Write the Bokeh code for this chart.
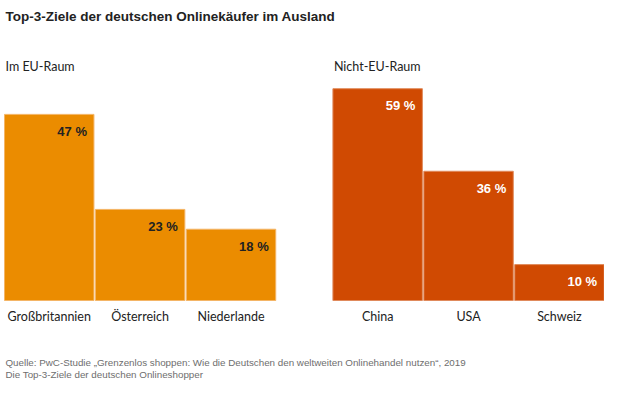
from bokeh.plotting import figure
from bokeh.models import Range1d, Label, ColumnDataSource
from bokeh.core.properties import value
from bokeh.embed import file_html
from bokeh.resources import INLINE

# ---- data ----
eu_countries = ["Großbritannien", "Österreich", "Niederlande"]
eu_values = [47, 23, 18]
noneu_countries = ["China", "USA", "Schweiz"]
noneu_values = [59, 36, 10]

title_text = "Top-3-Ziele der deutschen Onlinekäufer im Ausland"
eu_title = "Im EU-Raum"
noneu_title = "Nicht-EU-Raum"
source_line1 = "Quelle: PwC-Studie „Grenzenlos shoppen: Wie die Deutschen den weltweiten Onlinehandel nutzen“, 2019"
source_line2 = "Die Top-3-Ziele der deutschen Onlineshopper"

# ---- layout helpers ----
EU_COLOR = "#EB8C00"
NONEU_COLOR = "#D04A02"
BAR_W = 0.984
GROUP_GAP = 3.613

eu_x = [i for i in range(len(eu_countries))]
noneu_x = [GROUP_GAP + i for i in range(len(noneu_countries))]

eu_src = ColumnDataSource(dict(
    x=eu_x, top=eu_values, name=eu_countries,
    xr=[x + BAR_W / 2 for x in eu_x],
    lbl=[f"{v} %" for v in eu_values]))
noneu_src = ColumnDataSource(dict(
    x=noneu_x, top=noneu_values, name=noneu_countries,
    xr=[x + BAR_W / 2 for x in noneu_x],
    lbl=[f"{v} %" for v in noneu_values]))

W, H = 604, 383
PX_PER_UNIT = 90.9
x_start = eu_x[0] - BAR_W / 2 - 4 / PX_PER_UNIT
BASE = 300.0  # baseline from top, px
EU_PX = 3.96
NONEU_PX = 3.59

p = figure(width=W, height=H, output_backend="svg", toolbar_location=None,
           x_range=Range1d(x_start, x_start + W / PX_PER_UNIT),
           y_range=Range1d(-(H - BASE) / EU_PX, BASE / EU_PX),
           min_border=0, outline_line_color=None,
           background_fill_color="white", border_fill_color="white")
p.extra_y_ranges = {"right": Range1d(-(H - BASE) / NONEU_PX, BASE / NONEU_PX)}
p.xaxis.visible = False
p.yaxis.visible = False
p.grid.visible = False

p.vbar(x="x", top="top", bottom=0, width=BAR_W, source=eu_src,
       fill_color=EU_COLOR, line_color="#F4B566", line_width=1)
p.vbar(x="x", top="top", bottom=0, width=BAR_W, source=noneu_src,
       fill_color=NONEU_COLOR, line_color="#E08A5C", line_width=1,
       y_range_name="right")

LABEL_FONT = value("Liberation Sans")
CAT_FONT = value("Lato")

p.text(x="xr", y="top", text="lbl", source=eu_src, x_offset=-7, y_offset=17,
       text_align="right", text_baseline="middle", text_font=LABEL_FONT,
       text_font_size="13px", text_font_style="bold", text_color="#222222")
p.text(x="xr", y="top", text="lbl", source=noneu_src, x_offset=-7, y_offset=17,
       text_align="right", text_baseline="middle", text_font=LABEL_FONT,
       text_font_size="13px", text_font_style="bold", text_color="white",
       y_range_name="right")

p.text(x="x", y=0, text="name", source=eu_src, y_offset=16,
       text_align="center", text_baseline="middle", text_font=CAT_FONT,
       text_font_size="12.5px", text_color="#222222")
p.text(x="x", y=0, text="name", source=noneu_src, y_offset=16,
       text_align="center", text_baseline="middle", text_font=CAT_FONT,
       text_font_size="12.5px", text_color="#222222", y_range_name="right")

p.add_layout(Label(x=5, y=H - 16, x_units="screen", y_units="screen", text=title_text,
                   text_font="Liberation Sans", text_font_size="13.5px",
                   text_font_style="bold", text_color="#222222",
                   text_baseline="middle", text_align="left"))
p.add_layout(Label(x=eu_x[0] - BAR_W / 2, y=H - 66, x_offset=1, y_units="screen",
                   text=eu_title, text_font="Lato", text_font_size="12.5px",
                   text_color="#222222", text_baseline="middle"))
p.add_layout(Label(x=noneu_x[0] - BAR_W / 2, y=H - 66, x_offset=1, y_units="screen",
                   text=noneu_title, text_font="Lato", text_font_size="12.5px",
                   text_color="#222222", text_baseline="middle"))
p.add_layout(Label(x=5, y=H - 362, x_units="screen", y_units="screen", text=source_line1,
                   text_font="Liberation Sans", text_font_size="9.8px",
                   text_color="#6E6E6E", text_baseline="middle"))
p.add_layout(Label(x=5, y=H - 374, x_units="screen", y_units="screen", text=source_line2,
                   text_font="Liberation Sans", text_font_size="9.8px",
                   text_color="#6E6E6E", text_baseline="middle"))

open("out.html", "w").write(file_html(p, INLINE))
